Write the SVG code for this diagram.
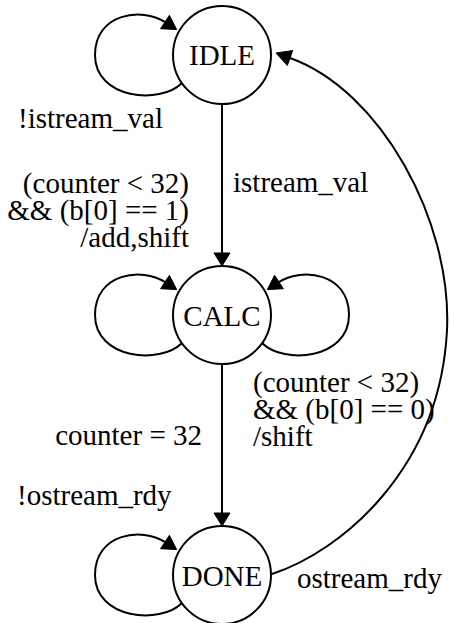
<svg xmlns="http://www.w3.org/2000/svg" width="451" height="623" viewBox="0 0 451 623" font-family="'Liberation Serif', 'DejaVu Serif', serif">
<style>
.node{fill:none;stroke:#000;stroke-width:2}
.edge{fill:none;stroke:#000;stroke-width:2}
.head{fill:#000;stroke:#000;stroke-width:1}
.t{font-family:'Liberation Serif',serif;font-size:29px;fill:#000}
.c{text-anchor:middle}
.e{text-anchor:end}
</style>
<defs>
<g id="loopL">
<path class="edge" d="M-40,28 C-62,50 -127,44 -127,0 C-127,-42 -80,-48 -57,-33"/>
<polygon class="head" points="-45.3,-25.4 -61.4,-26.3 -52.6,-39.7"/>
</g>
</defs>
<rect width="451" height="623" fill="#fff"/>
<g id="connectors">
<use href="#loopL" transform="translate(222,55)"/>
<use href="#loopL" transform="translate(222,315)"/>
<use href="#loopL" transform="translate(222,315) scale(-1,1)"/>
<use href="#loopL" transform="translate(222,575)"/>
<path class="edge" d="M222,104 L222,253"/>
<polygon class="head" points="222,266 214,253 230,253"/>
<path class="edge" d="M222,364 L222,513"/>
<polygon class="head" points="222,526 214,513 230,513"/>
<path class="edge" d="M272,574 C340,552 440,470 447,330 C452,220 380,90 290,58"/>
<polygon class="head" points="276,53 287.3,65.5 292.7,50.5"/>
<text class="t" x="18" y="128">!istream_val</text>
<text class="t" x="233" y="192">istream_val</text>
<text class="t e" x="189" y="193">(counter &lt; 32)</text>
<text class="t e" x="189" y="220">&amp;&amp; (b[0] == 1)</text>
<text class="t e" x="189" y="247">/add,shift</text>
<text class="t e" x="202" y="445">counter = 32</text>
<text class="t" x="253" y="392">(counter &lt; 32)</text>
<text class="t" x="253" y="419">&amp;&amp; (b[0] == 0)</text>
<text class="t" x="253" y="446">/shift</text>
<text class="t" x="17" y="505">!ostream_rdy</text>
<text class="t" x="297" y="588">ostream_rdy</text>
</g>
<g id="IDLE">
<circle class="node" cx="222" cy="55" r="49"/>
<text class="t c" x="222" y="65">IDLE</text>
</g>
<g id="CALC">
<circle class="node" cx="222" cy="315" r="49"/>
<text class="t c" x="222" y="326">CALC</text>
</g>
<g id="DONE">
<circle class="node" cx="222" cy="575" r="49"/>
<text class="t c" x="222" y="586">DONE</text>
</g>
</svg>
